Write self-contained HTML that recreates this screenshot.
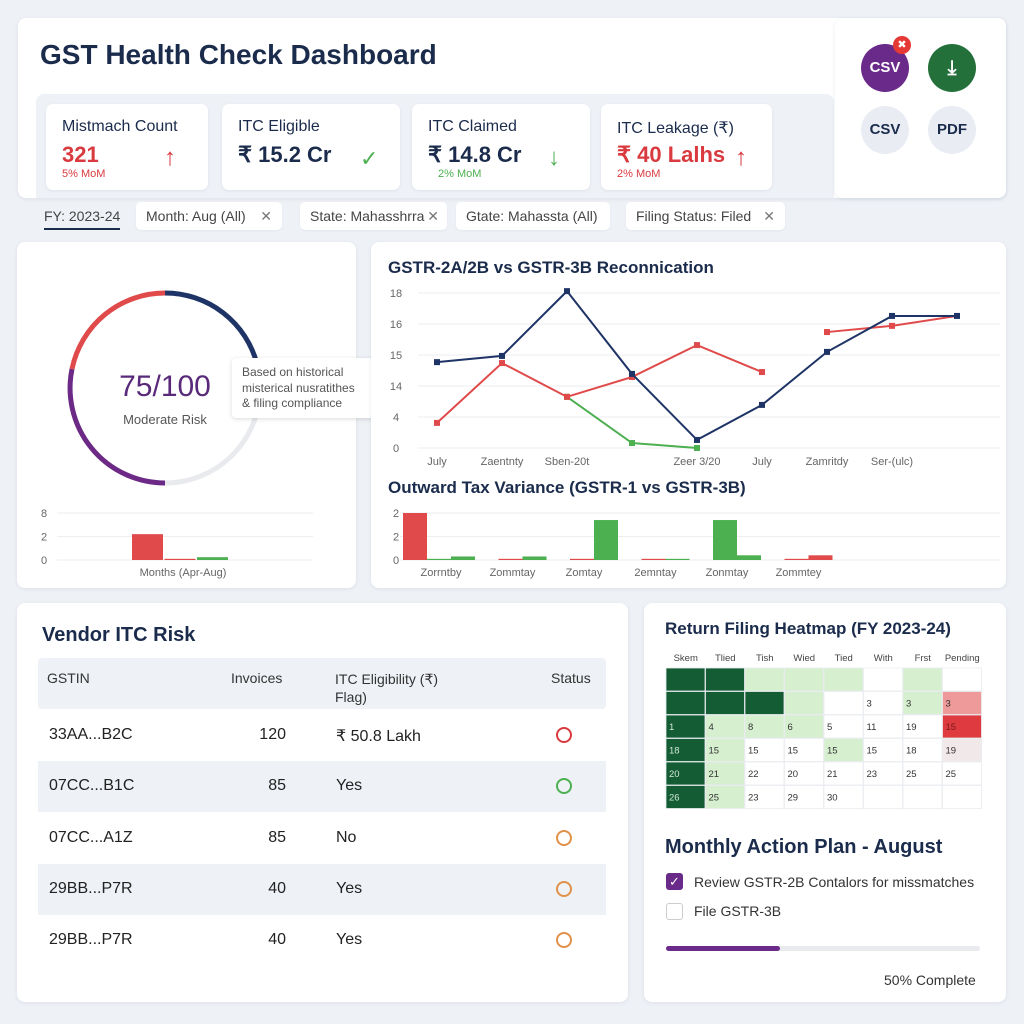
<!DOCTYPE html>
<html><head><meta charset="utf-8"><style>
*{box-sizing:border-box;margin:0;padding:0}
body{width:1024px;height:1024px;background:#eef1f6;font-family:"Liberation Sans",sans-serif;position:relative;overflow:hidden;color:#1a2b4c}
.abs{position:absolute}
.card{position:absolute;background:#fff;border-radius:8px;box-shadow:0 1px 4px rgba(30,40,80,.08)}
.kpi{position:absolute;top:104px;height:86px;background:#fff;border-radius:7px;box-shadow:0 1px 3px rgba(30,40,80,.07)}
.kpi .t{position:absolute;left:16px;top:14px;font-size:16px;color:#1a2b4c}
.kpi .v{position:absolute;left:16px;top:38px;font-size:22px;font-weight:bold}
.kpi .m{position:absolute;left:16px;top:64px;font-size:11px}
.chip{position:absolute;top:202px;height:28px;background:#fff;border-radius:5px;font-size:14px;color:#444;line-height:28px;padding-left:10px;box-shadow:0 1px 2px rgba(30,40,80,.05)}
.circ{position:absolute;width:48px;height:48px;border-radius:50%;font-size:15px;font-weight:bold;text-align:center;line-height:48px}
.th{position:absolute;font-size:14px;color:#333}
.td{position:absolute;font-size:16px;color:#222}
</style></head><body>
<div class="card" style="left:18px;top:18px;width:988px;height:180px"></div>
<div class="abs" style="left:40px;top:39px;font-size:28px;font-weight:bold;color:#1a2b4c">GST Health Check Dashboard</div>
<div class="abs" style="left:36px;top:94px;width:798px;height:104px;background:#eef1f6;border-radius:8px 8px 0 0"></div>
<div class="card" style="left:835px;top:18px;width:171px;height:180px"></div>
<div class="kpi" style="left:46px;width:162px"><div class="t">Mistmach Count</div><div class="v" style="color:#d93a3f">321</div><div class="m" style="color:#d93a3f">5% MoM</div><div class="abs" style="left:118px;top:40px;font-size:24px;color:#d93a3f">↑</div></div>
<div class="kpi" style="left:222px;width:178px"><div class="t">ITC Eligible</div><div class="v">₹ 15.2 Cr</div><div class="abs" style="left:138px;top:42px;font-size:22px;color:#4caf50">✓</div></div>
<div class="kpi" style="left:412px;width:178px"><div class="t">ITC Claimed</div><div class="v">₹ 14.8 Cr</div><div class="m" style="color:#4caf50;left:26px">2% MoM</div><div class="abs" style="left:136px;top:40px;font-size:24px;color:#4caf50">↓</div></div>
<div class="kpi" style="left:601px;width:171px"><div class="t">ITC Leakage (₹)</div><div class="v" style="color:#d93a3f">₹ 40 Lalhs</div><div class="m" style="color:#d93a3f">2% MoM</div><div class="abs" style="left:134px;top:40px;font-size:24px;color:#d93a3f">↑</div></div>
<div class="circ" style="left:861px;top:44px;background:#6a2a8a;color:#fff">CSV</div>
<div class="abs" style="left:893px;top:36px;width:18px;height:18px;border-radius:50%;background:#e53935;color:#fff;font-size:11px;text-align:center;line-height:18px">✖</div>
<div class="circ" style="left:928px;top:44px;background:#23703a;color:#fff;font-size:20px">⤓</div>
<div class="circ" style="left:861px;top:106px;background:#e9edf3;color:#1a2b4c">CSV</div>
<div class="circ" style="left:928px;top:106px;background:#e9edf3;color:#1a2b4c">PDF</div>
<div class="abs" style="left:44px;top:208px;font-size:14px;color:#444;border-bottom:2px solid #1a2b4c;padding-bottom:4px">FY: 2023-24</div>
<div class="chip" style="left:136px;width:146px">Month: Aug (All)<span style="position:absolute;right:10px;color:#777">✕</span></div>
<div class="chip" style="left:300px;width:147px">State: Mahasshrra<span style="position:absolute;right:8px;color:#777">✕</span></div>
<div class="chip" style="left:456px;width:154px">Gtate: Mahassta (All)</div>
<div class="chip" style="left:626px;width:159px">Filing Status: Filed<span style="position:absolute;right:10px;color:#777">✕</span></div>

<div class="card" style="left:17px;top:242px;width:339px;height:346px"></div>
<svg class="abs" style="left:17px;top:242px" width="339" height="346">
<g transform="translate(148,146)" fill="none" stroke-width="5">
<path d="M0,-95 A95,95 0 0 1 92,-24" stroke="#1f3466"/>
<path d="M92,-24 A95,95 0 0 1 0,95" stroke="#e8eaee"/>
<path d="M0,95 A95,95 0 0 1 -93,-19" stroke="#6c2a86"/>
<path d="M-93,-19 A95,95 0 0 1 0,-95" stroke="#e04a4a"/>
</g>
<text x="148" y="154" text-anchor="middle" font-size="30" fill="#5a2a7a" font-family="Liberation Sans">75/100</text>
<text x="148" y="182" text-anchor="middle" font-size="13" fill="#555" font-family="Liberation Sans">Moderate Risk</text>
</svg>
<div class="abs" style="left:232px;top:358px;width:148px;height:60px;background:#fff;border-radius:4px;box-shadow:0 1px 5px rgba(0,0,0,.15);font-size:12px;color:#555;padding:7px 10px;line-height:15.5px;white-space:nowrap;overflow:hidden">Based on historical<br>misterical nusratithes<br>&amp; filing compliance</div>
<svg class="abs" id="smallbar" style="left:0;top:500px" width="360" height="90"></svg>

<div class="card" style="left:371px;top:242px;width:635px;height:346px"></div>
<div class="abs" style="left:388px;top:258px;font-size:17px;font-weight:bold;color:#1a2b4c">GSTR-2A/2B vs GSTR-3B Reconnication</div>
<svg class="abs" id="line" style="left:0;top:0" width="1024" height="480"></svg>
<div class="abs" style="left:388px;top:478px;font-size:17px;font-weight:bold;color:#1a2b4c">Outward Tax Variance (GSTR-1 vs GSTR-3B)</div>
<svg class="abs" id="bars" style="left:0;top:500px" width="1024" height="90"></svg>

<div class="card" style="left:17px;top:603px;width:611px;height:399px"></div>
<div class="abs" style="left:42px;top:624px;font-size:20px;font-weight:bold;color:#1a2b4c">Vendor ITC Risk</div>
<div class="abs" style="left:38px;top:658px;width:568px;height:51px;background:#eef1f6;border-radius:4px"></div>
<div class="th" style="left:47px;top:670px">GSTIN</div>
<div class="th" style="left:231px;top:670px">Invoices</div>
<div class="th" style="left:335px;top:670px;line-height:18px">ITC Eligibility (₹)<br>Flag)</div>
<div class="th" style="left:551px;top:670px">Status</div>
<div id="rows"></div>

<div class="card" style="left:644px;top:603px;width:362px;height:399px"></div>
<div class="abs" style="left:665px;top:619px;font-size:17px;font-weight:bold;color:#1a2b4c">Return Filing Heatmap (FY 2023-24)</div>
<svg class="abs" id="heat" style="left:644px;top:640px" width="362" height="180"></svg>
<div class="abs" style="left:665px;top:836px;font-size:20px;font-weight:bold;color:#1a2b4c">Monthly Action Plan - August</div>
<div class="abs" style="left:666px;top:873px;width:17px;height:17px;background:#6a2a8a;border-radius:3px;color:#fff;font-size:13px;text-align:center;line-height:17px">✓</div>
<div class="abs" style="left:694px;top:874px;font-size:14px;color:#333">Review GSTR-2B Contalors for missmatches</div>
<div class="abs" style="left:666px;top:903px;width:17px;height:17px;border:1.5px solid #ccc;border-radius:3px"></div>
<div class="abs" style="left:694px;top:903px;font-size:14px;color:#333">File GSTR-3B</div>
<div class="abs" style="left:666px;top:946px;width:314px;height:5px;background:#e8eaee;border-radius:3px"><div style="width:114px;height:5px;background:#6a2a8a;border-radius:3px"></div></div>
<div class="abs" style="left:884px;top:972px;font-size:14px;color:#333">50% Complete</div>

<script>
const NS='http://www.w3.org/2000/svg';
function mk(p,t,a){const e=document.createElementNS(NS,t);for(const k in a)e.setAttribute(k,a[k]);p.appendChild(e);return e;}
// ---- line chart data ----
const lineCats=['July','Zaentnty','Sben-20t','','Zeer 3/20','July','Zamritdy','Ser-(ulc)',''];
const yTickLabels=['0','4','14','15','16','18'];
const seriesBlue=[2.77,2.97,5.06,2.39,0.26,1.39,3.1,4.26,4.26];
const seriesRed=[0.81,2.74,1.65,2.29,3.32,2.45,3.74,3.94,4.26];
const redBreaks=[5];
const seriesGreen=[null,null,1.65,0.16,0.0,null,null,null,null];
const lx=i=>437+i*65, ly=v=>448-31*v;
const L=document.getElementById('line');
yTickLabels.forEach((t,i)=>{
 const g=mk(L,'line',{x1:418,x2:1000,y1:ly(i),y2:ly(i),stroke:'#eceef2'});
 
 const tx=mk(L,'text',{x:396,y:ly(i)+4,'font-size':11,fill:'#666','text-anchor':'middle','font-family':'Liberation Sans'});tx.textContent=t;
 
});
lineCats.forEach((c,i)=>{if(!c)return;const tx=mk(L,'text',{x:lx(i),y:465,'font-size':11,fill:'#666','text-anchor':'middle','font-family':'Liberation Sans'});tx.textContent=c;
 });
[[seriesGreen,'#4caf50','green',[]],[seriesRed,'#e04a4a','red',redBreaks],[seriesBlue,'#1f3466','blue',[]]].forEach(([s,col,n,brk])=>{
 let d='',pen=false;
 s.forEach((v,i)=>{if(v==null){pen=false;return;}d+=(pen?'L':'M')+lx(i)+','+ly(v);pen=!brk.includes(i);});
 const p=mk(L,'path',{d:d,fill:'none',stroke:col,'stroke-width':2});
 
 s.forEach((v,i)=>{if(v==null)return;if(n=='red'&&i==s.length-1)return;const r=mk(L,'rect',{x:lx(i)-3,y:ly(v)-3,width:6,height:6,fill:col});
  });
});
// ---- outward variance bars ----
const barCats=['Zorrntby','Zommtay','Zomtay','2emntay','Zonmtay','Zommtey'];
const barTicks=['0','2','2'];
const seriesA=[2.0,0,0,0,0,0];
const seriesB=[0.05,0.05,0.05,0.05,1.7,0.05];
const seriesC=[0.15,0.15,1.7,0.05,0.2,0.2];
const colorsB=['#4caf50','#e04a4a','#e04a4a','#e04a4a','#4caf50','#e04a4a'];
const colorsC=['#4caf50','#4caf50','#4caf50','#4caf50','#4caf50','#e04a4a'];
const B=document.getElementById('bars');
const by=v=>60-23.5*v, bx=(g,s)=>403+g*71.5+s*24;
barTicks.forEach((t,i)=>{mk(B,'line',{x1:400,x2:1000,y1:by(i),y2:by(i),stroke:'#eceef2'});
 const tx=mk(B,'text',{x:396,y:by(i)+4,'font-size':11,fill:'#666','text-anchor':'middle','font-family':'Liberation Sans'});tx.textContent=t;
 });
barCats.forEach((c,g)=>{
 [[seriesA,['#e04a4a','#e04a4a','#e04a4a','#e04a4a','#e04a4a','#e04a4a'],0],[seriesB,colorsB,1],[seriesC,colorsC,2]].forEach(([s,cols,k])=>{
  if(!s[g])return;const r=mk(B,'rect',{x:bx(g,k),y:by(s[g]),width:24,height:60-by(s[g]),fill:cols[g]});
  });
 const tx=mk(B,'text',{x:bx(g,1)+14,y:76,'font-size':11,fill:'#666','text-anchor':'middle','font-family':'Liberation Sans'});tx.textContent=c;
 
});
// ---- small left bars ----
const smallTicks=['0','2','8'];
const smallVals=[1.1,0.05,0.12];
const smallCols=['#e04a4a','#e04a4a','#4caf50'];
const S=document.getElementById('smallbar');
smallTicks.forEach((t,i)=>{mk(S,'line',{x1:57,x2:313,y1:by(i),y2:by(i),stroke:'#eceef2'});
 const tx=mk(S,'text',{x:44,y:by(i)+4,'font-size':11,fill:'#666','text-anchor':'middle','font-family':'Liberation Sans'});tx.textContent=t;
 });
smallVals.forEach((v,i)=>{const r=mk(S,'rect',{x:132+i*32.5,y:by(v),width:31,height:60-by(v),fill:smallCols[i]});
 });
const sl=mk(S,'text',{x:183,y:76,'font-size':11,fill:'#666','text-anchor':'middle','font-family':'Liberation Sans'});sl.textContent='Months (Apr-Aug)';

// ---- heatmap ----
const heatCols=['Skem','Tlied','Tish','Wied','Tied','With','Frst','Pending'];
const heatLevels=[[2,2,1,1,1,0,1,0],[2,2,2,1,0,0,1,3],[2,1,1,1,0,0,0,4],[2,1,0,0,1,0,0,5],[2,1,0,0,0,0,0,0],[2,1,0,0,0,0,0,0]];
const heatVals=[['','','','','','','',''],['','','','','','3','3','3'],['1','4','8','6','5','11','19','15'],['18','15','15','15','15','15','18','19'],['20','21','22','20','21','23','25','25'],['26','25','23','29','30','','','']];
const levelFill=['#ffffff','#d6efcf','#145c34','#ee9a9a','#de3a40','#f1e8e9'];
const H=document.getElementById('heat');
heatCols.forEach((c,j)=>{const tx=mk(H,'text',{x:22+j*39.5+19.75,y:21,'font-size':9.5,fill:'#444','text-anchor':'middle','font-family':'Liberation Sans'});tx.textContent=c;
 });
heatLevels.forEach((row,i)=>row.forEach((lv,j)=>{
 const r=mk(H,'rect',{x:22+j*39.5,y:28+i*23.5,width:39,height:23,fill:levelFill[lv],stroke:'#e9ecf0','stroke-width':0.8});
 
 if(heatVals[i][j]){const tx=mk(H,'text',{x:25+j*39.5,y:28+i*23.5+15,'font-size':9.5,fill:lv==2?'#cfe8d6':(lv==4?'#7a1a1a':'#333'),'font-family':'Liberation Sans'});tx.textContent=heatVals[i][j];
  }
}));
// ---- vendor rows ----
const vendors=[['33AA...B2C','120','₹ 50.8 Lakh','#d93a3f'],['07CC...B1C','85','Yes','#4caf50'],['07CC...A1Z','85','No','#e0914a'],['29BB...P7R','40','Yes','#e0914a'],['29BB...P7R','40','Yes','#e0914a']];
const R=document.getElementById('rows');
vendors.forEach((v,i)=>{
 const top=710+i*51.3;
 const row=document.createElement('div');row.className='abs';
 
 
 row.style.cssText=`left:38px;top:${top}px;width:568px;height:51px;background:${i%2?'#eef1f6':'#fff'}`;
 row.innerHTML=`<div class="td" style="left:11px;top:16px">${v[0]}</div><div class="td" style="left:190px;top:16px;width:58px;text-align:right">${v[1]}</div><div class="td" style="left:298px;top:16px">${v[2]}</div><div style="position:absolute;left:518px;top:17px;width:16px;height:16px;border-radius:50%;border:2px solid ${v[3]}"></div>`;
 R.appendChild(row);
});
</script>
</body></html>
